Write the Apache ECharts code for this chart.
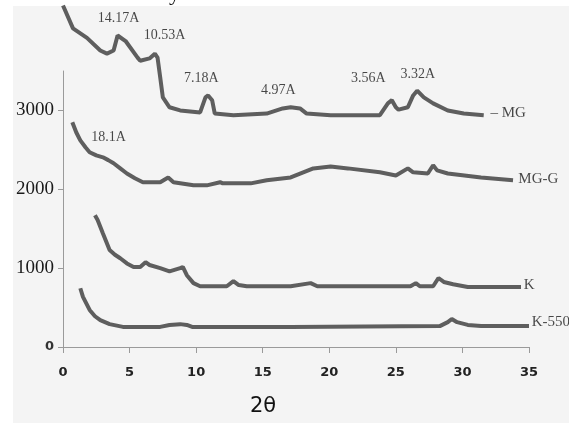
<!DOCTYPE html>
<html>
<head>
<meta charset="utf-8">
<script src="https://cdn.jsdelivr.net/npm/echarts@6/dist/echarts.min.js"></script>
<style>
html,body{margin:0;padding:0;background:#fff;}
#chart{width:569px;height:423px;}
</style>
</head>
<body>
<div id="chart"></div>
<script>
// ---- data (2θ in degrees, intensity in counts) ----
var mgTheta  = [0.0,0.75,1.8,2.8,3.3,3.8,4.1,4.7,5.6,5.8,6.5,6.9,7.1,7.3,7.5,8.0,8.8,10.3,10.7,10.9,11.2,11.4,12.8,15.3,16.5,17.1,17.8,18.3,20.1,23.8,24.4,24.7,25.0,25.2,25.9,26.3,26.6,27.1,27.8,28.9,30.1,31.6];
var mgCounts = [4330,4040,3920,3760,3720,3760,3950,3880,3670,3630,3660,3720,3670,3420,3165,3040,3000,2975,3165,3190,3130,2960,2940,2960,3025,3040,3025,2960,2940,2940,3090,3130,3040,3010,3040,3190,3250,3165,3090,3000,2960,2940];

var mggTheta  = [0.7,1.0,1.3,1.7,2.0,2.5,3.0,3.4,3.8,4.3,4.8,5.4,6.0,7.3,7.9,8.3,9.8,10.8,11.8,12.0,14.1,15.3,17.1,18.8,20.1,21.4,23.8,25.0,25.9,26.3,27.4,27.8,28.1,28.9,31.4,33.8];
var mggCounts = [2850,2720,2620,2530,2470,2430,2405,2370,2330,2265,2200,2140,2090,2090,2150,2090,2050,2050,2090,2075,2075,2115,2150,2265,2290,2265,2215,2175,2265,2215,2200,2305,2240,2200,2150,2115];

var kTheta  = [2.4,2.6,3.0,3.5,3.9,4.3,4.8,5.3,5.8,6.2,6.5,7.3,8.0,8.8,9.0,9.3,9.8,10.3,12.3,12.8,13.2,13.8,17.1,18.6,19.1,26.1,26.5,26.8,27.8,28.2,28.6,29.3,30.4,34.4];
var kCounts = [1670,1610,1440,1230,1170,1125,1060,1015,1015,1075,1040,1000,960,1000,1015,910,810,770,770,835,785,770,770,810,770,770,810,770,770,875,825,795,760,760];

var k550Theta  = [1.3,1.5,2.0,2.4,2.8,3.5,4.5,7.3,8.0,8.8,9.3,9.7,17.1,28.3,28.9,29.2,29.6,30.4,31.4,35.0];
var k550Counts = [745,635,470,390,340,290,255,255,280,290,280,255,255,265,315,355,315,280,265,265];

var xTicks = [0,5,10,15,20,25,30,35];
var yTicks = [0,1000,2000,3000];

// peak annotations: [2θ, counts, text]
var peakLabels = [
  [4.17, 4165, '14.17A'],
  [7.63, 3950, '10.53A'],
  [10.38, 3405, '7.18A'],
  [16.17, 3253, '4.97A'],
  [22.93, 3405, '3.56A'],
  [26.65, 3456, '3.32A'],
  [3.42, 2658, '18.1A']
];
// sample names (left anchored)
var sampleLabels = [
  [32.1, 2962, '\u2013 MG'],
  [34.2, 2127, 'MG-G'],
  [34.6, 785, 'K'],
  [35.2, 316, 'K-550']
];

function zip(a, b) { return a.map(function (v, i) { return [v, b[i]]; }); }

var chart = echarts.init(document.getElementById('chart'), null, {renderer: 'canvas'});
var lineStyle = {color: '#5e5e5e', width: 4};
function lineSeries(name, xs, ys) {
  return {
    type: 'line', name: name, data: zip(xs, ys), showSymbol: false, symbol: 'none',
    clip: false, lineStyle: lineStyle, itemStyle: {color: '#5e5e5e'}, silent: true
  };
}

chart.setOption({
  backgroundColor: '#ffffff',
  animation: false,
  graphic: [
    {type: 'rect', left: 13, top: 6, shape: {width: 556, height: 417}, style: {fill: '#f4f4f4'}, z: -10, silent: true},
    {type: 'text', left: 250, top: 396, style: {text: '2\u03b8', font: '21px "DejaVu Sans"', fill: '#111'}, silent: true},
    {type: 'text', right: 389, top: -17, style: {text: 'Intensity', font: '22px "Liberation Serif"', fill: '#111'}, silent: true}
  ],
  grid: {left: 63, right: 40, top: 71, bottom: 76, containLabel: false},
  xAxis: {
    type: 'value', min: 0, max: 35, interval: 5,
    axisLine: {show: true, lineStyle: {color: '#9a9a9a', width: 1}},
    axisTick: {show: true, length: 6, inside: false, lineStyle: {color: '#9a9a9a'}},
    splitLine: {show: false},
    axisLabel: {margin: 19, color: '#222', fontFamily: 'DejaVu Sans', fontWeight: 'bold', fontSize: 13,
      customValues: xTicks}
  },
  yAxis: {
    type: 'value', min: 0, max: 3500, interval: 1000,
    axisLine: {show: true, lineStyle: {color: '#9a9a9a', width: 1}},
    axisTick: {show: true, length: 5, lineStyle: {color: '#9a9a9a'}, customValues: yTicks},
    splitLine: {show: false},
    axisLabel: {
      customValues: yTicks, margin: 9, color: '#1a1a1a', fontFamily: 'Liberation Serif', fontSize: 19,
      formatter: function (v) { return v === 0 ? '{s|0}' : String(v); },
      rich: {s: {fontFamily: 'DejaVu Sans', fontWeight: 'bold', fontSize: 13, color: '#333'}}
    }
  },
  series: [
    lineSeries('MG', mgTheta, mgCounts),
    lineSeries('MG-G', mggTheta, mggCounts),
    lineSeries('K', kTheta, kCounts),
    lineSeries('K-550', k550Theta, k550Counts),
    {
      type: 'scatter', clip: false, symbolSize: 0, silent: true,
      data: peakLabels.map(function (p) { return {value: [p[0], p[1]], name: p[2]}; }),
      label: {show: true, position: 'inside', formatter: '{b}', color: '#1a1a1a',
        fontFamily: 'Liberation Serif', fontSize: 14}
    },
    {
      type: 'scatter', clip: false, symbolSize: 0, silent: true,
      data: sampleLabels.map(function (p) { return {value: [p[0], p[1]], name: p[2]}; }),
      label: {show: true, position: 'right', distance: 0, formatter: '{b}', color: '#1a1a1a',
        fontFamily: 'Liberation Serif', fontSize: 15}
    }
  ]
});
</script>
</body>
</html>
